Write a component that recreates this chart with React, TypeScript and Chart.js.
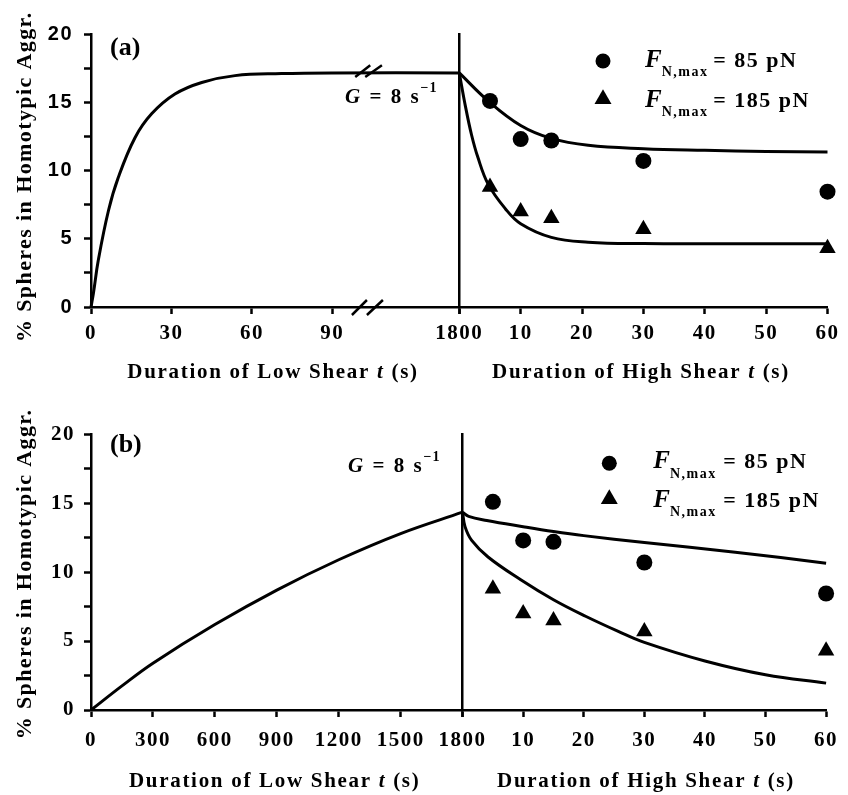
import React, { useEffect, useRef } from 'react';
import { Chart, registerables, LinearScale } from 'chart.js';

Chart.register(...registerables);

// ---------------- data ----------------
const HIGH_T = [5, 10, 15, 30, 60];
const EXP_85 = [15.1, 12.3, 12.2, 10.7, 8.45];
const EXP_185 = [8.8, 7.0, 6.5, 5.7, 4.3];

const LOW_A_T = [0, 0.9, 2.7, 6.5, 10.2, 16.4, 22.6, 31.3, 41.3, 53.7, 71, 90, 1800];
const LOW_A_Y = [0, 1.0, 3.4, 7.05, 9.5, 12.4, 14.15, 15.6, 16.45, 16.95, 17.1, 17.15, 17.15];
const HIGH_A_85_T = [0, 4.7, 10, 15, 21, 30, 40, 50, 60];
const HIGH_A_85_Y = [17.15, 15.1, 13.3, 12.35, 11.85, 11.6, 11.48, 11.4, 11.35];
const HIGH_A_185_T = [0, 1, 2, 3, 4.7, 7.5, 10, 15, 21, 30, 45, 60];
const HIGH_A_185_Y = [17.15, 14.7, 12.6, 11.0, 9.0, 7.2, 6.1, 5.1, 4.75, 4.65, 4.64, 4.64];

const LOW_B_T = [0, 150, 300, 600, 900, 1200, 1500, 1800];
const LOW_B_Y = [0, 1.75, 3.4, 6.2, 8.7, 10.9, 12.8, 14.35];
const HIGH_B_85_T = [0, 1, 4, 10, 15, 20, 30, 45, 60];
const HIGH_B_85_Y = [14.35, 14.05, 13.75, 13.3, 12.95, 12.65, 12.15, 11.45, 10.65];
const HIGH_B_185_T = [0, 0.4, 1.5, 4.2, 9.6, 15, 20.3, 25.7, 30, 40, 50, 60];
const HIGH_B_185_Y = [14.35, 13.3, 12.3, 11.1, 9.45, 8.0, 6.8, 5.7, 4.9, 3.55, 2.55, 1.95];

const LOW_A_TICKS = [0, 30, 60, 90, 1800];
const LOW_B_TICKS = [0, 300, 600, 900, 1200, 1500, 1800];
const HIGH_TICKS = [0, 10, 20, 30, 40, 50, 60];
const Y_TICKS = [0, 2.5, 5, 7.5, 10, 12.5, 15, 17.5, 20];
const LOW_A_BREAK = 103;

const Y_TITLE = '% Spheres in Homotypic Aggr.';
const LOW_TITLE = ['Duration of Low Shear ', 't', ' (s)'];
const HIGH_TITLE = ['Duration of High Shear ', 't', ' (s)'];
const LEGEND_85 = '= 85 pN';
const LEGEND_185 = '= 185 pN';

// ---------------- layout ----------------
const W = 848;
const H = 395;
const AXIS_H = 40;
const RIGHT_LEFT = 440;
const BREAK_FRACTION = 0.75;
const SERIF = '"Liberation Serif", "Times New Roman", Times, serif';
const SANS = '"Liberation Sans", Arial, Helvetica, sans-serif';

class BrokenLinearScale extends LinearScale {
  static id = 'brokenLinear';
  static defaults = {};
  getPixelForValue(value: number) {
    if (value === null || value === undefined || Number.isNaN(value)) return NaN;
    const min = (this as any).min;
    const max = (this as any).max;
    const dec =
      value <= LOW_A_BREAK
        ? ((value - min) / (LOW_A_BREAK - min)) * BREAK_FRACTION
        : BREAK_FRACTION + ((value - LOW_A_BREAK) / (max - LOW_A_BREAK)) * (1 - BREAK_FRACTION);
    return (this as any).getPixelForDecimal(dec);
  }
  getValueForPixel(pixel: number) {
    const dec = (this as any).getDecimalForPixel(pixel);
    const min = (this as any).min;
    const max = (this as any).max;
    return dec <= BREAK_FRACTION
      ? min + (dec / BREAK_FRACTION) * (LOW_A_BREAK - min)
      : LOW_A_BREAK + ((dec - BREAK_FRACTION) / (1 - BREAK_FRACTION)) * (max - LOW_A_BREAK);
  }
}
Chart.register(BrokenLinearScale as any);

type Seg = { text: string; font: string; dy?: number; spacing?: number };

function drawSegs(ctx: CanvasRenderingContext2D, segs: Seg[], x: number, y: number, align: 'left' | 'center') {
  const widths = segs.map((s) => {
    ctx.font = s.font;
    (ctx as any).letterSpacing = (s.spacing || 0) + 'px';
    return ctx.measureText(s.text).width;
  });
  const total = widths.reduce((a, b) => a + b, 0);
  let cx = align === 'center' ? x - total / 2 : x;
  segs.forEach((s, i) => {
    ctx.font = s.font;
    (ctx as any).letterSpacing = (s.spacing || 0) + 'px';
    ctx.fillText(s.text, cx, y + (s.dy || 0));
    cx += widths[i];
  });
  (ctx as any).letterSpacing = '0px';
  return cx;
}

function titleSegs(parts: string[]): Seg[] {
  return [
    { text: parts[0], font: `bold 21px ${SERIF}`, spacing: 1.7 },
    { text: parts[1], font: `italic bold 21px ${SERIF}`, spacing: 1.7 },
    { text: parts[2], font: `bold 21px ${SERIF}`, spacing: 1.7 },
  ];
}

const spacingPlugin = {
  id: 'spacing',
  beforeDraw(chart: any) {
    chart.ctx.letterSpacing = '1.5px';
  },
  afterDraw(chart: any) {
    chart.ctx.letterSpacing = '0px';
  },
};

const tickGrid = {
  display: true,
  drawOnChartArea: false,
  drawTicks: true,
  tickLength: 7,
  tickWidth: 2.5,
  tickColor: '#000',
};
const axisBorder = { display: true, color: '#000', width: 2.5 };

function lineDs(ts: number[], ys: number[]) {
  return {
    data: ts.map((t, i) => ({ x: t, y: ys[i] })),
    borderColor: '#000',
    borderWidth: 3,
    pointRadius: 0,
    fill: false,
    tension: 0.4,
    clip: false,
  };
}
function markerDs(ys: number[], style: string, r: number) {
  return {
    data: HIGH_T.map((t, i) => ({ x: t, y: ys[i] })),
    showLine: false,
    pointStyle: style,
    pointRadius: r,
    pointBackgroundColor: '#000',
    pointBorderWidth: 0,
    borderColor: '#000',
    clip: false,
  };
}

interface Panel {
  label: string;
  xType: string;
  lowT: number[];
  lowY: number[];
  lowTicks: number[];
  h85T: number[];
  h85Y: number[];
  h185T: number[];
  h185Y: number[];
  plotTop: number;
  plotBottom: number;
  splitX: number;
  rightEdge: number;
  xTickPad: number;
  yTickPad: number;
  yFont: string;
  ySize: number;
  yTitleCY: number;
  labelY: number;
  gX: number;
  gY: number;
  lowTitleCX: number;
  highTitleCX: number;
  titleY: number;
  legX: number;
  legY1: number;
  legY2: number;
  legTextX: number;
  legEqX: number;
  legBase1: number;
  legBase2: number;
  broken: boolean;
}

const PANEL_A: Panel = {
  label: '(a)', xType: 'brokenLinear',
  lowT: LOW_A_T, lowY: LOW_A_Y, lowTicks: LOW_A_TICKS,
  h85T: HIGH_A_85_T, h85Y: HIGH_A_85_Y, h185T: HIGH_A_185_T, h185Y: HIGH_A_185_Y,
  plotTop: 34, plotBottom: 307, splitX: 459.3, rightEdge: 827.5,
  xTickPad: 7, yTickPad: 11, yFont: SANS, ySize: 20,
  yTitleCY: 176.7, labelY: 55, gX: 345, gY: 103.3,
  lowTitleCX: 273, highTitleCX: 641, titleY: 378.3,
  legX: 603, legY1: 61, legY2: 99, legTextX: 645, legEqX: 713.3, legBase1: 66.7, legBase2: 106.7,
  broken: true,
};
const PANEL_B: Panel = {
  label: '(b)', xType: 'linear',
  lowT: LOW_B_T, lowY: LOW_B_Y, lowTicks: LOW_B_TICKS,
  h85T: HIGH_B_85_T, h85Y: HIGH_B_85_Y, h185T: HIGH_B_185_T, h185Y: HIGH_B_185_Y,
  plotTop: 34.3, plotBottom: 310, splitX: 462.6, rightEdge: 835,
  xTickPad: 11.4, yTickPad: 9, yFont: SERIF, ySize: 21,
  yTitleCY: 174, labelY: 51.7, gX: 348, gY: 71.7,
  lowTitleCX: 274.7, highTitleCX: 646, titleY: 386.7,
  legX: 609.3, legY1: 63.3, legY2: 99, legTextX: 653.3, legEqX: 723.3, legBase1: 68.3, legBase2: 106.7,
  broken: false,
};

function xTickFont() {
  return { family: SERIF, size: 21, weight: 'bold' };
}

function leftConfig(p: Panel): any {
  const annot = {
    id: 'annotLeft',
    afterDraw(chart: any) {
      const ctx: CanvasRenderingContext2D = chart.ctx;
      ctx.save();
      ctx.fillStyle = '#000';
      ctx.strokeStyle = '#000';
      ctx.textAlign = 'left';
      ctx.textBaseline = 'alphabetic';
      // y title
      ctx.save();
      ctx.translate(31, p.yTitleCY);
      ctx.rotate(-Math.PI / 2);
      drawSegs(ctx, [{ text: Y_TITLE, font: `bold 22px ${SERIF}`, spacing: 1.4 }], 0, 0, 'center');
      ctx.restore();
      // panel label
      drawSegs(ctx, [{ text: p.label, font: `bold 26px ${SERIF}` }], 110, p.labelY, 'left');
      // G label
      drawSegs(
        ctx,
        [
          { text: 'G', font: `italic bold 21px ${SERIF}`, spacing: 2 },
          { text: ' = 8 s', font: `bold 21px ${SERIF}`, spacing: 2 },
          { text: '\u22121', font: `bold 14px ${SERIF}`, dy: -11, spacing: 1 },
        ],
        p.gX,
        p.gY,
        'left'
      );
      // low title
      drawSegs(ctx, titleSegs(LOW_TITLE), p.lowTitleCX, p.titleY, 'center');
      // break marks
      if (p.broken) {
        const xs = chart.scales.x;
        const ys = chart.scales.y;
        const cx = xs.getPixelForValue(LOW_A_BREAK);
        const by = chart.chartArea.bottom;
        const ty = ys.getPixelForValue(LOW_A_Y[LOW_A_Y.length - 1]);
        ctx.lineWidth = 2.5;
        ctx.beginPath();
        ctx.moveTo(cx - 15.3, by + 8);
        ctx.lineTo(cx - 0.3, by - 7);
        ctx.moveTo(cx - 0.3, by + 8);
        ctx.lineTo(cx + 15.7, by - 7);
        ctx.moveTo(cx - 12, ty + 4);
        ctx.lineTo(cx + 3, ty - 7.7);
        ctx.moveTo(cx - 2, ty + 4);
        ctx.lineTo(cx + 14.7, ty - 7.7);
        ctx.stroke();
      }
      ctx.restore();
    },
  };
  return {
    type: 'line',
    data: { datasets: [lineDs(p.lowT, p.lowY)] },
    options: {
      responsive: false,
      animation: false,
      events: [],
      layout: { padding: { left: 0, top: p.plotTop, right: W - p.splitX, bottom: H - p.plotBottom - AXIS_H } },
      plugins: { legend: { display: false }, tooltip: { enabled: false } },
      scales: {
        x: {
          type: p.xType,
          min: 0,
          max: 1800,
          afterBuildTicks: (s: any) => {
            s.ticks = p.lowTicks.map((v) => ({ value: v }));
          },
          afterFit: (s: any) => {
            s.height = AXIS_H;
          },
          ticks: {
            autoSkip: false,
            maxRotation: 0,
            padding: p.xTickPad,
            color: '#000',
            font: xTickFont(),
            callback: (v: any) => String(v),
          },
          grid: tickGrid,
          border: axisBorder,
        },
        y: {
          type: 'linear',
          min: 0,
          max: 20,
          afterBuildTicks: (s: any) => {
            s.ticks = Y_TICKS.map((v) => ({ value: v }));
          },
          afterFit: (s: any) => {
            s.width = 91;
          },
          ticks: {
            autoSkip: false,
            padding: p.yTickPad,
            color: '#000',
            font: { family: p.yFont, size: p.ySize, weight: 'bold' },
            callback: (v: any) => (v % 5 === 0 ? String(v) : ''),
          },
          grid: tickGrid,
          border: axisBorder,
        },
      },
    },
    plugins: [spacingPlugin, annot],
  };
}

function rightConfig(p: Panel): any {
  const annot = {
    id: 'annotRight',
    afterDraw(chart: any) {
      const ctx: CanvasRenderingContext2D = chart.ctx;
      ctx.save();
      ctx.fillStyle = '#000';
      ctx.textAlign = 'left';
      ctx.textBaseline = 'alphabetic';
      const lx = p.legX - RIGHT_LEFT;
      // legend markers
      ctx.beginPath();
      ctx.arc(lx, p.legY1, 7.5, 0, Math.PI * 2);
      ctx.fill();
      const r = 9.8;
      ctx.beginPath();
      ctx.moveTo(lx, p.legY2 - r);
      ctx.lineTo(lx + r * Math.sin(Math.PI / 3), p.legY2 + r / 2);
      ctx.lineTo(lx - r * Math.sin(Math.PI / 3), p.legY2 + r / 2);
      ctx.closePath();
      ctx.fill();
      // legend text
      const rows: [number, string][] = [
        [p.legBase1, LEGEND_85],
        [p.legBase2, LEGEND_185],
      ];
      rows.forEach(([base, txt]) => {
        drawSegs(
          ctx,
          [
            { text: 'F', font: `italic bold 25px ${SERIF}` },
            { text: 'N,max', font: `bold 14px ${SERIF}`, dy: 9.5, spacing: 1.5 },
          ],
          p.legTextX - RIGHT_LEFT,
          base,
          'left'
        );
        drawSegs(ctx, [{ text: txt, font: `bold 22px ${SERIF}`, spacing: 1.5 }], p.legEqX - RIGHT_LEFT, base, 'left');
      });
      // high title
      drawSegs(ctx, titleSegs(HIGH_TITLE), p.highTitleCX - RIGHT_LEFT, p.titleY, 'center');
      ctx.restore();
    },
  };
  return {
    type: 'line',
    data: {
      datasets: [
        lineDs(p.h85T, p.h85Y),
        lineDs(p.h185T, p.h185Y),
        markerDs(EXP_85, 'circle', 8),
        markerDs(EXP_185, 'triangle', 9.5),
      ],
    },
    options: {
      responsive: false,
      animation: false,
      events: [],
      layout: {
        padding: {
          left: p.splitX - RIGHT_LEFT,
          top: p.plotTop,
          right: W - p.rightEdge,
          bottom: H - p.plotBottom - AXIS_H,
        },
      },
      plugins: { legend: { display: false }, tooltip: { enabled: false } },
      scales: {
        x: {
          type: 'linear',
          min: 0,
          max: 60,
          afterBuildTicks: (s: any) => {
            s.ticks = HIGH_TICKS.map((v) => ({ value: v }));
          },
          afterFit: (s: any) => {
            s.height = AXIS_H;
          },
          ticks: {
            autoSkip: false,
            maxRotation: 0,
            padding: p.xTickPad,
            color: '#000',
            font: xTickFont(),
            callback: (v: any) => (v === 0 ? '' : String(v)),
          },
          grid: tickGrid,
          border: axisBorder,
        },
        y: {
          type: 'linear',
          min: 0,
          max: 20,
          afterFit: (s: any) => {
            s.width = 0;
          },
          ticks: { display: false },
          grid: { display: false },
          border: axisBorder,
        },
      },
    },
    plugins: [spacingPlugin, annot],
  };
}

function ChartCanvas(props: { make: () => any; left: number; top: number; width: number; height: number }) {
  const ref = useRef<HTMLCanvasElement>(null);
  const { make, left, top, width, height } = props;
  useEffect(() => {
    const chart = new Chart(ref.current as HTMLCanvasElement, make());
    return () => chart.destroy();
  }, [make]);
  return (
    <canvas
      ref={ref}
      width={width}
      height={height}
      style={{ position: 'absolute', left, top, width, height, display: 'block' }}
    />
  );
}

const makeLeftA = () => leftConfig(PANEL_A);
const makeRightA = () => rightConfig(PANEL_A);
const makeLeftB = () => leftConfig(PANEL_B);
const makeRightB = () => rightConfig(PANEL_B);

export default function App() {
  return (
    <div style={{ position: 'absolute', left: 0, top: 0, width: W, height: 795, background: '#fff', overflow: 'hidden' }}>
      <ChartCanvas make={makeLeftA} left={0} top={0} width={W} height={H} />
      <ChartCanvas make={makeRightA} left={RIGHT_LEFT} top={0} width={W - RIGHT_LEFT} height={H} />
      <ChartCanvas make={makeLeftB} left={0} top={400} width={W} height={H} />
      <ChartCanvas make={makeRightB} left={RIGHT_LEFT} top={400} width={W - RIGHT_LEFT} height={H} />
    </div>
  );
}
